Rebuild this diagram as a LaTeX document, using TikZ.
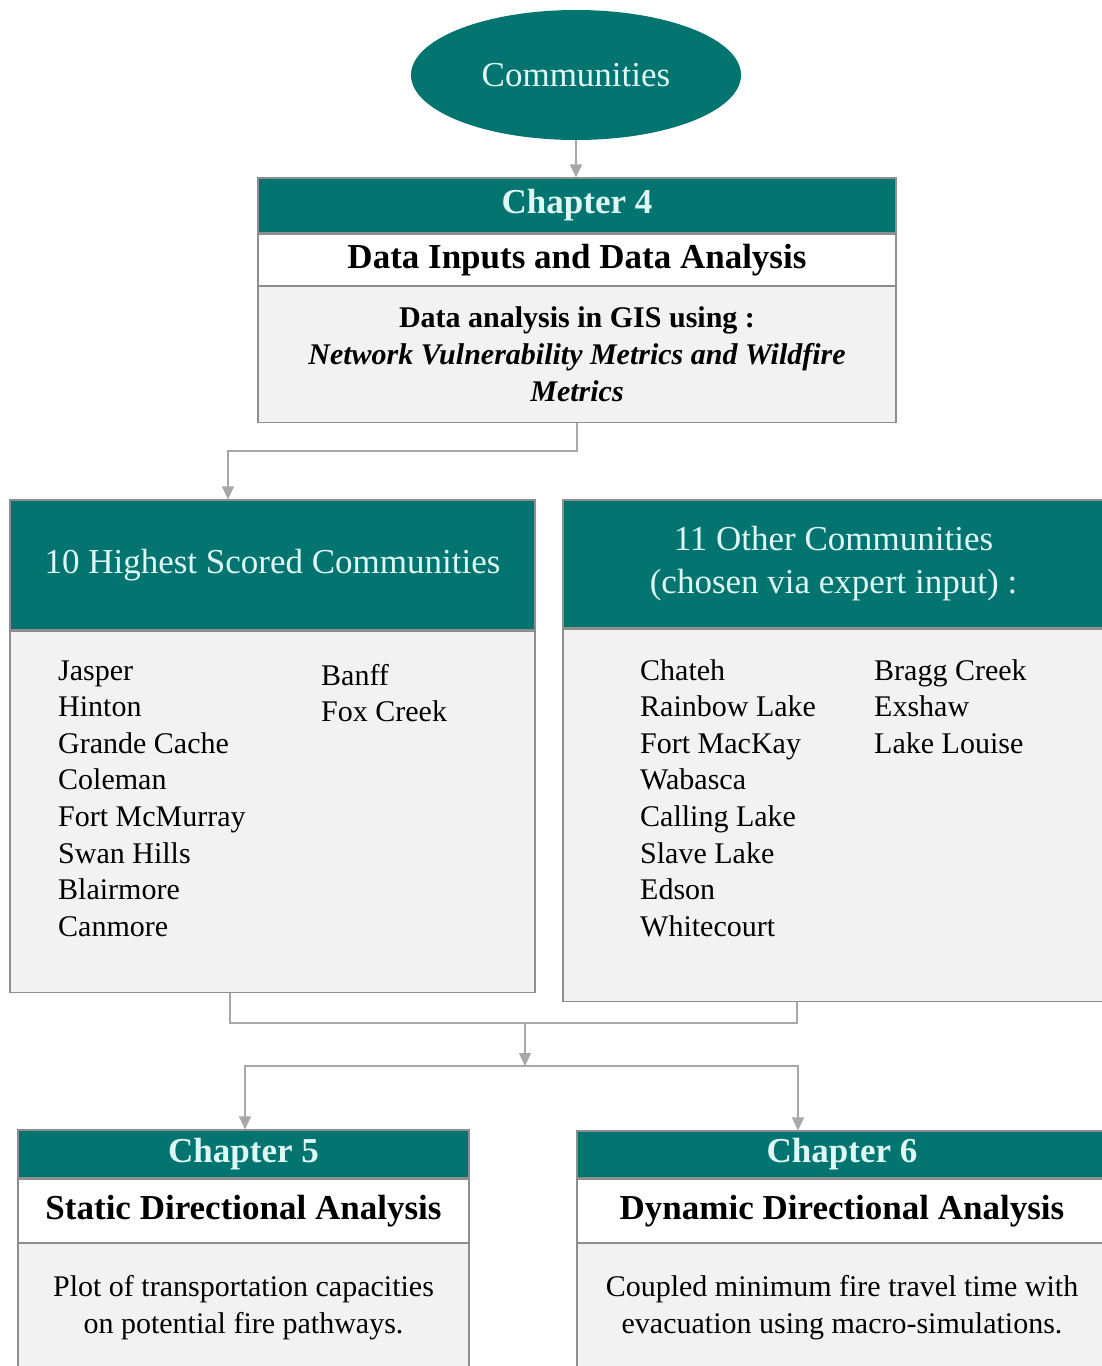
\documentclass[tikz,border=0pt]{standalone}
\usepackage{fontspec}
\setmainfont{Liberation Serif}
\definecolor{SFteal}{HTML}{037470}
\definecolor{SFlight}{HTML}{DDF8F5}
\definecolor{SFgray}{HTML}{F2F2F2}
\definecolor{SFedge}{HTML}{8E8E8E}
\definecolor{SFline}{HTML}{A8A8A8}
\usetikzlibrary{arrows.meta,positioning,shapes.geometric}
\newcommand{\bigtxt}{\fontsize{35}{43}\selectfont}
\newcommand{\listtxt}{\fontsize{30}{37}\selectfont}

\begin{document}
\begin{tikzpicture}[x=1pt,y=-1pt,
  band/.style={draw=SFedge,line width=1.2pt,inner sep=0pt,align=center},
  tealband/.style={band,fill=SFteal,text=SFlight},
  whiteband/.style={band,fill=white,font=\bigtxt\bfseries},
  grayband/.style={band,fill=SFgray,font=\listtxt},
  listitem/.style={anchor=base west,inner sep=0pt,font=\listtxt},
  link/.style={draw=SFline,line width=1.5pt},
  flow/.style={link,-{Triangle[width=12pt,length=13pt]}}]
  \useasboundingbox (0,0) rectangle (1102,1366);
  \clip (0,0) rectangle (1102,1366);
  \node[ellipse,fill=SFteal,text=SFlight,minimum width=330pt,minimum height=130pt,font=\bigtxt] (comm) at (576,75) {Communities};
  \node[tealband,minimum width=638pt,minimum height=55pt,font=\bigtxt\bfseries] (ch4) at (577,205.5) {Chapter 4};
  \node[whiteband,minimum width=638pt,minimum height=51pt,below=0pt of ch4] (ch4title) {Data Inputs and Data Analysis};
  \node[grayband,minimum width=638pt,minimum height=136pt,below=0pt of ch4title] (ch4body)
    {\textbf{Data analysis in GIS using :}\\\textbf{\textit{Network Vulnerability Metrics and Wildfire}}\\\textbf{\textit{Metrics}}};

  \node[tealband,minimum width=525pt,minimum height=130pt,font=\bigtxt] (high) at (272.5,565) {10 Highest Scored Communities};
  \node[grayband,minimum width=525pt,minimum height=361pt,below=0pt of high] (highbody) {};
  \node[tealband,minimum width=541pt,minimum height=128pt,font=\bigtxt] (other) at (833.5,564) {11 Other Communities\\(chosen via expert input) :};
  \node[grayband,minimum width=541pt,minimum height=372pt,below=0pt of other] (otherbody) {};

  \foreach \name [count=\i] in {Jasper,Hinton,Grande Cache,Coleman,Fort McMurray,Swan Hills,Blairmore,Canmore}
    \node[listitem] (hs\i) at (58,{680+36.6*(\i-1)}) {\name};
  \foreach \name [count=\i] in {Banff,Fox Creek}
    \node[listitem] (hx\i) at (321,{685+36.6*(\i-1)}) {\name};
  \foreach \name [count=\i] in {Chateh,Rainbow Lake,Fort MacKay,Wabasca,Calling Lake,Slave Lake,Edson,Whitecourt}
    \node[listitem] (oc\i) at (640,{680+36.6*(\i-1)}) {\name};
  \foreach \name [count=\i] in {Bragg Creek,Exshaw,Lake Louise}
    \node[listitem] (ox\i) at (874,{680+36.6*(\i-1)}) {\name};

  \node[tealband,minimum width=451pt,minimum height=48pt,font=\bigtxt\bfseries] (ch5) at (243.5,1154) {Chapter 5};
  \node[whiteband,minimum width=451pt,minimum height=63pt,below=0pt of ch5] (ch5title) {Static Directional Analysis};
  \node[grayband,minimum width=451pt,minimum height=128pt,below=0pt of ch5title] (ch5body)
    {Plot of transportation capacities\\on potential fire pathways.};
  \node[tealband,minimum width=530pt,minimum height=47pt,font=\bigtxt\bfseries] (ch6) at (842,1154.5) {Chapter 6};
  \node[whiteband,minimum width=530pt,minimum height=63pt,below=0pt of ch6] (ch6title) {Dynamic Directional Analysis};
  \node[grayband,minimum width=530pt,minimum height=128pt,below=0pt of ch6title] (ch6body)
    {Coupled minimum fire travel time with\\evacuation using macro-simulations.};

  \coordinate (merge) at (525,1023);
  \coordinate (split) at (525,1066);
  \draw[flow] (comm.south) -- (comm.south |- ch4.north);
  \draw[flow] (ch4body.south) -- ++(0,28) -| ([xshift=-44.5pt]high.north);
  \draw[link] ([xshift=-42.5pt]highbody.south) |- (merge) -| ([xshift=-36.5pt]otherbody.south);
  \draw[flow] (merge) -- (split);
  \draw[flow] (split) -| ([xshift=1.5pt]ch5.north);
  \draw[flow] (split) -| ([xshift=-44pt]ch6.north);
\end{tikzpicture}
\end{document}
